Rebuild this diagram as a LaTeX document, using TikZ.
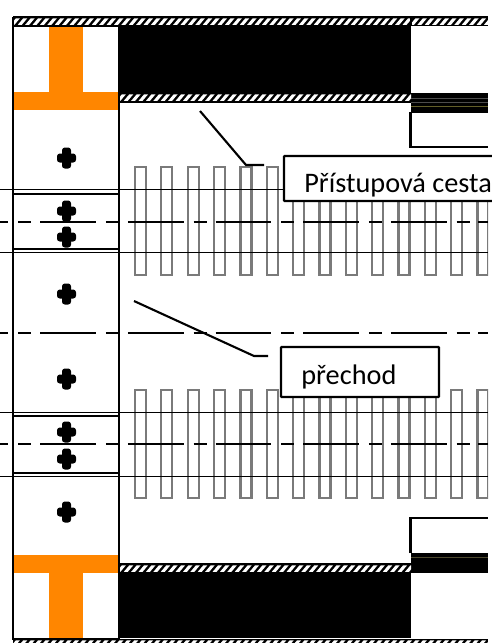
\documentclass[tikz,border=0pt]{standalone}
\usepackage{fontspec}
\setmainfont{Carlito}
\pgfdeclarelayer{bg}
\pgfsetlayers{bg,main}
\tikzset{
  railline/.style={line width=0.85pt},
  dashline/.style={line width=1.1pt, dash pattern=on 31.75pt off 5.67pt on 7.37pt off 5.1pt, dash phase=27pt},
  sleeper/.style={draw=black!52, line width=1.3pt},
  outline/.style={line width=1.05pt},
  leader/.style={line width=1.2pt},
  plusarm/.style={fill, rounded corners=1.6pt},
  labelbox/.style={draw, fill=white, line width=1.2pt, rounded corners=0.4pt},
  labeltext/.style={font=\fontsize{16.1}{18}\selectfont, inner sep=0pt, anchor=base west},
}
\newcommand{\hatchband}[3]{%
  \begin{scope}
    \clip (#1,#3) rectangle (#2,#3+9);
    \fill[black] (#1,#3) rectangle (#2,#3+9);
    \pgfmathsetmacro{\stripestart}{#1-10}
    \pgfmathsetmacro{\stripenext}{#1-10+7.4}
    \foreach \s in {\stripestart,\stripenext,...,#2}
      \fill[white] (\s,#3+7.8) -- (\s+4,#3+7.8) -- (\s+9.5,#3+1.3) -- (\s+5.5,#3+1.3) -- cycle;
  \end{scope}}
\begin{document}
\begin{tikzpicture}[x=0.02cm, y=-0.02cm]
  \useasboundingbox (0,0) rectangle (491,643);

  \begin{pgfonlayer}{bg}
    % sleepers
    \begin{scope}
      \clip (0,0) rectangle (488,643);
      \foreach \n in {0,...,13} {
        \draw[sleeper] ({135+26.35*\n},275) rectangle ({146+26.35*\n},167);
        \draw[sleeper] ({135+26.35*\n},498) rectangle ({146+26.35*\n},390);
      }
    \end{scope}
  \end{pgfonlayer}

  % orange
  \fill[orange!95!yellow] (14,92) rectangle (119,110);
  \fill[orange!95!yellow] (49,26) rectangle (83,92);
  \fill[orange!95!yellow] (14,555) rectangle (119,573);
  \fill[orange!95!yellow] (49,573) rectangle (83,639);

  % black parts
  \fill (119,26) rectangle (411,93);
  \fill (119,573) rectangle (411,638);
  \fill (411,93) rectangle (488,112.5);
  \fill (411,553) rectangle (488,573);
  \foreach \y in {98,102}
    \draw[black!70!white, line width=0.2pt] (411,\y) -- (488,\y);
  \draw[olive!60!black, line width=0.3pt] (411,106.5) -- (488,106.5);
  \draw[olive!40!black, line width=0.2pt] (411,557) -- (488,557);

  % hatched bands
  \hatchband{13}{488}{17}
  \hatchband{119}{411}{93}
  \hatchband{119}{411}{564}
  \hatchband{13}{488}{639}
  \draw[outline] (13,17) -- (488,17);
  \draw[outline] (119,102) -- (411,102);
  \draw[outline] (119,564) -- (411,564);
  \draw[outline] (411,17) -- (411,26);

  % rails
  \foreach \y in {189.6,252.6,412.6,476.6}
    \draw[railline] (0,\y) -- (488,\y);
  \foreach \y in {193.6,249.4,416.4,472.6}
    \draw[outline] (13,\y) -- (119,\y);
  \foreach \y in {221.6,332.6,443.6}
    \draw[dashline] (0,\y) -- (488,\y);

  % left strip and right stubs
  \draw[outline] (13,17) -- (13,639) -- (119,639) -- (119,26);
  \draw[outline] (13,26) -- (119,26);
  \draw[line width=1.2pt] (410.5,112) -- (410.5,147) -- (488,147);
  \draw[line width=1.2pt] (410.5,553) -- (410.5,518) -- (488,518);

  % crosses
  \foreach \y in {158,211,237,294,379,432,459,512} {
    \path[plusarm] (62,\y-10.5) rectangle (71,\y+10.5);
    \path[plusarm] (57,\y-4.5) rectangle (76,\y+4.5);
  }

  % labels
  \coordinate (a1) at (200,111);
  \coordinate (a2) at (246,165);
  \coordinate (a3) at (264,165);
  \coordinate (b1) at (134,301);
  \coordinate (b2) at (254,356);
  \coordinate (b3) at (268,356);
  \draw[leader] (a1) -- (a2) -- (a3);
  \draw[leader] (b1) -- (b2) -- (b3);

  \draw[labelbox] (284,156) rectangle (500,201);
  \node (acc) [labeltext] at (304,192) {Přístupová cesta};
  \draw[labelbox] (281,347) rectangle (439,397);
  \node (cross) [labeltext] at (301,384) {přechod};
\end{tikzpicture}
\end{document}
